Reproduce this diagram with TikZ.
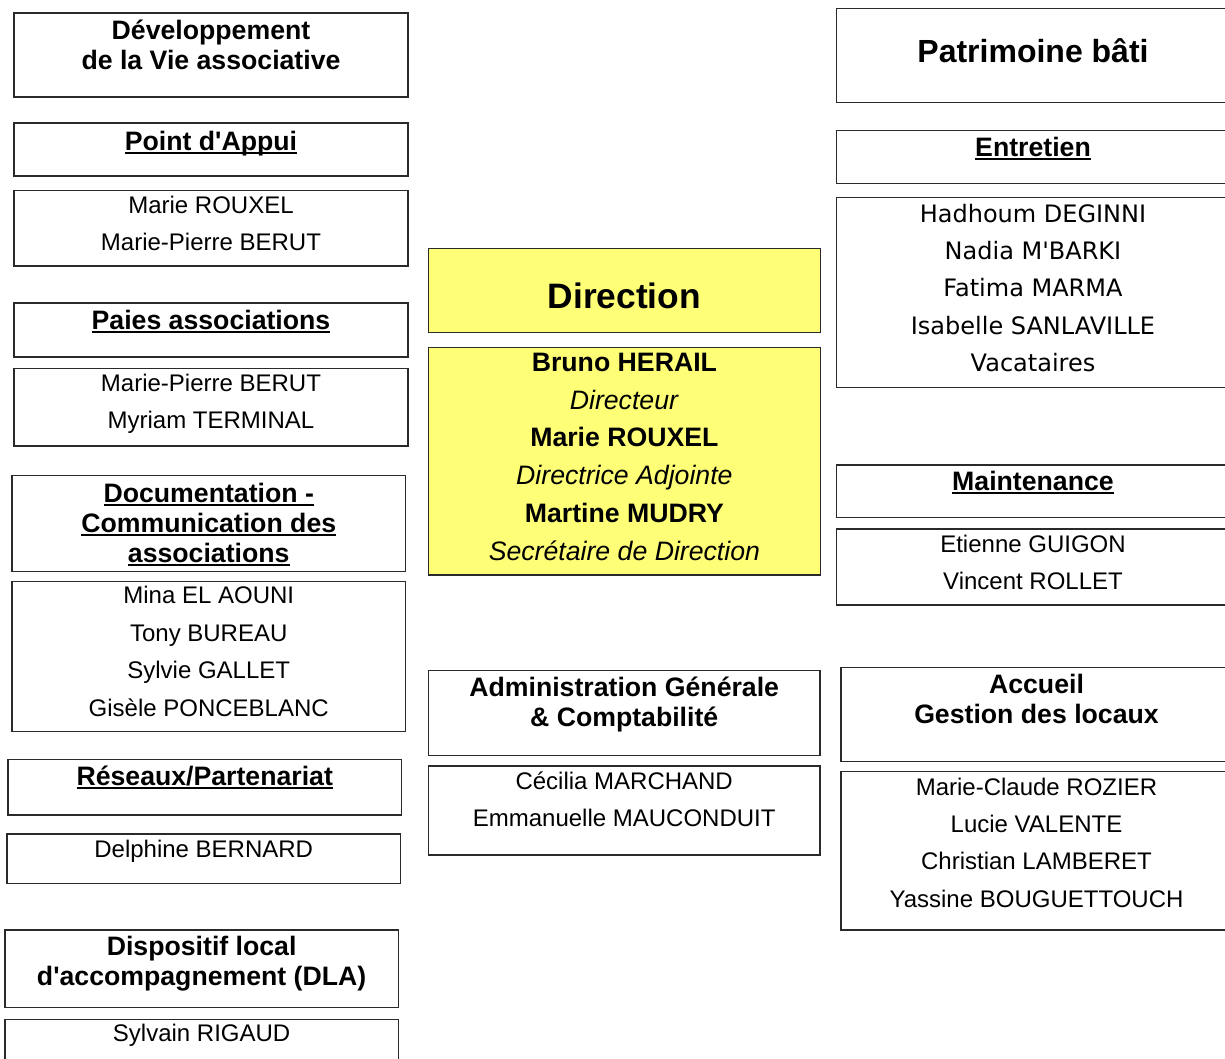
\documentclass[tikz,border=0pt]{standalone}
\usepackage{fontspec}
\newfontfamily\arial{Liberation Sans}
\newfontfamily\vfont{DejaVu Sans}
\definecolor{dirY}{HTML}{FFFF77}
\definecolor{edge}{HTML}{2A2A2A}
\newcommand\fl{\rule{0pt}{24pt}}
\newcommand\myul[1]{\setbox0=\hbox{#1}\rlap{\rule[-2.7pt]{\wd0}{1.4pt}}\box0}
\newcommand\bx[6]{\node[box,#6,minimum width={(#4-#2)*0.75pt},minimum height={(#5-#3)*0.75pt}] (#1) at (#2,#3) {};}
\tikzset{
  box/.style={draw=edge, line width=0.95pt, inner sep=0pt, outer sep=0pt, anchor=north west},
  txt/.style={inner sep=0pt, outer sep=0pt, anchor=north, align=center, text=black},
  names/.style={txt, font=\arial\fontsize{18}{28.1}\selectfont},
  vnames/.style={txt, font=\vfont\fontsize{18}{28}\selectfont},
  head/.style={txt, font=\arial\fontsize{20}{22.7}\selectfont\bfseries},
  dirtxt/.style={txt, font=\arial\fontsize{20}{28.3}\selectfont},
  big/.style={txt, font=\arial\fontsize{26.5}{30}\selectfont\bfseries},
  bigp/.style={txt, font=\arial\fontsize{24}{30}\selectfont\bfseries},
  yel/.style={fill=dirY}
}
\begin{document}
\begin{tikzpicture}[x=0.75pt,y=-0.75pt]
\useasboundingbox (0,0) rectangle (1225,1058);
\clip (0,0) rectangle (1225,1058);
% ---------- left column ----------
\bx{dev}{14}{13}{408}{97}{}
\node[head] (dev-t) at (211,7) {\fl D\'eveloppement\\de la Vie associative};
\bx{pa}{14}{123}{408}{176}{}
\node[head] (pa-t) at (211,118.7) {\fl\myul{Point d'Appui}};
\bx{pan}{14}{190.5}{408}{266}{}
\node[names] (pan-t) at (211,181.3) {\fl Marie ROUXEL\\Marie-Pierre BERUT};
\bx{pai}{14}{303}{408}{357}{}
\node[head] (pai-t) at (211,297.3) {\fl\myul{Paies associations}};
\bx{pain}{14}{368.5}{408}{446}{}
\node[names] (pain-t) at (211,359) {\fl Marie-Pierre BERUT\\Myriam TERMINAL};
\bx{doc}{12}{475.5}{405.5}{571.5}{}
\node[head] (doc-t) at (208.75,470) {\fl\myul{Documentation -}\\\myul{Communication des}\\\myul{associations}};
\bx{docn}{12}{581.5}{405.5}{731.5}{}
\node[names] (docn-t) at (208.75,571.8) {\fl Mina EL AOUNI\\Tony BUREAU\\Sylvie GALLET\\Gis\`ele PONCEBLANC};
\bx{res}{8}{759.3}{401.5}{815}{}
\node[head] (res-t) at (204.75,753) {\fl\myul{R\'eseaux/Partenariat}};
\bx{del}{7}{834}{400.5}{883.3}{}
\node[names] (del-t) at (203.75,825.3) {\fl Delphine BERNARD};
\bx{dla}{5}{930}{398.3}{1007.7}{}
\node[head] (dla-t) at (201.65,923.5) {\fl Dispositif local\\d'accompagnement (DLA)};
\bx{syl}{5}{1019.3}{398.3}{1080}{}
\node[names] (syl-t) at (201.65,1009.7) {\fl Sylvain RIGAUD};
% ---------- middle column ----------
\bx{dir}{428.3}{248.3}{820.5}{332.7}{yel}
\node[big] (dir-t) at (624.4,276.8) {\fl Direction};
\bx{dirn}{428.3}{347.3}{820.5}{575}{yel}
\node[dirtxt] (dirn-t) at (624.4,339.5) {\fl\textbf{Bruno HERAIL}\\\textit{Directeur}\\\textbf{Marie ROUXEL}\\\textit{Directrice Adjointe}\\\textbf{Martine MUDRY}\\\textit{Secr\'etaire de Direction}};
\bx{adm}{428.3}{670.7}{820}{755.7}{}
\node[head] (adm-t) at (624.2,664.7) {\fl Administration G\'en\'erale\\\& Comptabilit\'e};
\bx{admn}{428.3}{766}{820}{855}{}
\node[names] (admn-t) at (624.2,757.5) {\fl C\'ecilia MARCHAND\\Emmanuelle MAUCONDUIT};
% ---------- right column ----------
\bx{pat}{836.7}{8.3}{1230}{102.3}{}
\node[bigp] (pat-t) at (1033,30.5) {\fl Patrimoine b\^ati};
\bx{ent}{836.7}{130.7}{1230}{183.3}{}
\node[head] (ent-t) at (1033,124) {\fl\myul{Entretien}};
\bx{entn}{836.7}{197.7}{1230}{387.7}{}
\node[vnames] (entn-t) at (1033,190.2) {\fl Hadhoum DEGINNI\\Nadia M'BARKI\\Fatima MARMA\\Isabelle SANLAVILLE\\Vacataires};
\bx{mai}{836.7}{465}{1230}{517.7}{}
\node[head] (mai-t) at (1033,458) {\fl\myul{Maintenance}};
\bx{main}{836.7}{529}{1230}{605}{}
\node[names] (main-t) at (1033,520) {\fl Etienne GUIGON\\Vincent ROLLET};
\bx{acc}{841}{667.7}{1232}{761.7}{}
\node[head] (acc-t) at (1036.5,661.3) {\fl Accueil\\Gestion des locaux};
\bx{accn}{841}{771.7}{1232}{930}{}
\node[names] (accn-t) at (1036.5,763) {\fl Marie-Claude ROZIER\\Lucie VALENTE\\Christian LAMBERET\\Yassine BOUGUETTOUCH};
\end{tikzpicture}
\end{document}
